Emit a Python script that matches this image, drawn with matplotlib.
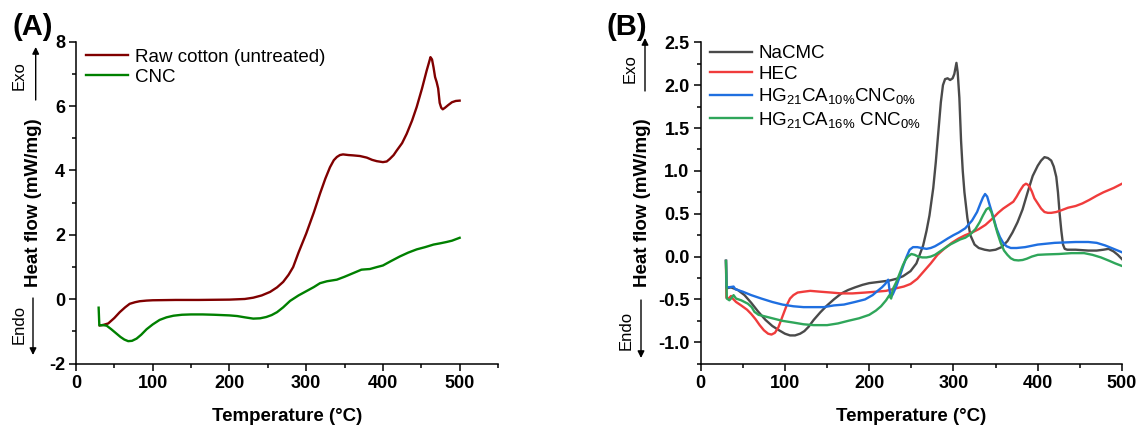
import matplotlib
matplotlib.use("Agg")
import matplotlib.pyplot as plt
from matplotlib.ticker import MultipleLocator, FormatStrFormatter

plt.rcParams['font.family'] = ['Liberation Sans', 'DejaVu Sans']
plt.rcParams['mathtext.fontset'] = 'custom'
plt.rcParams['mathtext.rm'] = 'Liberation Sans'
plt.rcParams['mathtext.it'] = 'Liberation Sans:italic'
plt.rcParams['mathtext.bf'] = 'Liberation Sans:bold'
plt.rcParams['axes.unicode_minus'] = False

# ---------------- Panel A data ----------------
T_raw = [31, 35, 42, 50, 57, 64, 70, 77, 83, 92, 100, 130, 160, 200, 220, 231, 242, 253, 262, 270,
         277, 283, 290, 300, 310, 318, 325, 331, 336, 340, 344, 348, 355, 361, 370, 379, 386, 392, 400, 405,
         409, 414, 418, 425, 431, 438, 444, 451, 457, 460, 462, 464, 466, 468, 470, 472, 474, 476, 478, 481,
         485, 490, 495, 500]
v_raw = [-0.81, -0.80, -0.75, -0.58, -0.40, -0.25, -0.14, -0.09, -0.06, -0.04, -0.03, -0.02, -0.02, -0.01, 0.01, 0.05, 0.12, 0.23, 0.37, 0.54,
         0.76, 1.0, 1.45, 2.04, 2.7, 3.28, 3.75, 4.1, 4.32, 4.42, 4.48, 4.5, 4.48, 4.47, 4.45, 4.40, 4.33, 4.29, 4.26, 4.28,
         4.36, 4.48, 4.62, 4.85, 5.14, 5.55, 5.97, 6.55, 7.1, 7.35, 7.52, 7.45, 7.2, 6.9, 6.75, 6.55, 6.1, 5.95, 5.9, 5.95,
         6.03, 6.12, 6.16, 6.17]

T_cnc = [29.5, 30.4, 35, 40, 46, 52, 58, 63, 68, 73, 79, 85, 92, 100, 109, 118, 127, 138, 150, 165,
         180, 200, 210, 220, 231, 240, 248, 255, 262, 270, 279, 290, 300, 310, 318, 327, 340, 350, 357, 365,
         372, 377, 383, 392, 400, 410, 422, 433, 444, 455, 466, 475, 483, 490, 500]
v_cnc = [-0.26, -0.81, -0.80, -0.82, -0.93, -1.05, -1.17, -1.25, -1.30, -1.29, -1.22, -1.1, -0.93, -0.78, -0.64, -0.56, -0.51, -0.48, -0.47, -0.47,
         -0.48, -0.50, -0.52, -0.56, -0.60, -0.59, -0.55, -0.49, -0.40, -0.25, -0.05, 0.12, 0.25, 0.38, 0.5, 0.56, 0.61, 0.70, 0.77, 0.85,
         0.92, 0.93, 0.94, 1.0, 1.05, 1.18, 1.33, 1.45, 1.55, 1.62, 1.70, 1.74, 1.78, 1.82, 1.91]

# ---------------- Panel B data ----------------
T_na = [30, 30.5, 36, 44, 52, 60, 68, 77, 85, 93, 100, 106, 112, 118, 123, 128, 134, 142, 150, 158,
        167, 175, 183, 192, 200, 208, 216, 224, 232, 240, 249, 256, 261, 264, 268, 271.5, 276, 279, 282, 285,
        287.5, 290, 293, 296, 299, 301, 303.5, 305, 307, 309, 311, 313, 316.5, 320, 325, 330, 337, 343, 350, 357,
        364, 370, 376, 382, 388, 394, 400, 404, 408, 412, 416, 419, 422, 424, 426, 428, 430, 432, 435, 445,
        460, 470, 478, 484, 490, 495, 500]
v_na = [-0.05, -0.37, -0.36, -0.39, -0.45, -0.54, -0.64, -0.74, -0.81, -0.86, -0.90, -0.92, -0.92, -0.90, -0.87, -0.82, -0.74, -0.65, -0.57, -0.50,
        -0.43, -0.39, -0.36, -0.33, -0.31, -0.30, -0.29, -0.28, -0.26, -0.23, -0.17, -0.08, 0.05, 0.13, 0.3, 0.48, 0.8, 1.1, 1.45, 1.8,
        2.0, 2.07, 2.08, 2.06, 2.08, 2.13, 2.26, 2.15, 1.85, 1.35, 1.0, 0.75, 0.45, 0.25, 0.14, 0.1, 0.08, 0.07, 0.08, 0.11,
        0.18, 0.28, 0.40, 0.55, 0.75, 0.94, 1.06, 1.12, 1.16, 1.15, 1.12, 1.05, 0.93, 0.75, 0.5, 0.3, 0.14, 0.09, 0.08, 0.08,
        0.07, 0.07, 0.08, 0.09, 0.06, 0.02, -0.03]

T_hec = [30, 30.5, 33, 36, 38, 42, 48, 55, 60, 65, 70, 75, 80, 84, 88, 92, 97, 102, 106, 110,
         115, 122, 130, 142, 155, 167, 180, 195, 208, 220, 232, 241, 249, 257, 265, 273, 281, 290, 298, 306,
         314, 322, 330, 338, 347, 353, 359, 365, 371, 375, 379, 383, 386, 388, 390, 393, 396, 400, 404, 408,
         412, 416, 422, 428, 436, 445, 453, 461, 470, 478, 490, 500]
v_hec = [-0.05, -0.48, -0.49, -0.46, -0.49, -0.53, -0.57, -0.62, -0.67, -0.73, -0.80, -0.86, -0.90, -0.91, -0.89, -0.83, -0.70, -0.57, -0.49, -0.45,
         -0.42, -0.41, -0.40, -0.41, -0.42, -0.43, -0.43, -0.42, -0.41, -0.40, -0.37, -0.35, -0.32, -0.26, -0.17, -0.08, 0.02, 0.10, 0.16, 0.21,
         0.25, 0.28, 0.32, 0.37, 0.45, 0.51, 0.56, 0.60, 0.64, 0.70, 0.77, 0.83, 0.85, 0.84, 0.82, 0.76, 0.68, 0.62, 0.56, 0.52,
         0.51, 0.51, 0.52, 0.54, 0.57, 0.59, 0.62, 0.66, 0.71, 0.75, 0.80, 0.85]

T_b = [30, 30.7, 36, 39, 41, 50, 60, 72, 85, 97, 110, 122, 134, 146, 158, 170, 183, 195, 204, 210,
       215, 219, 222.5, 224, 225.5, 228, 232, 236, 240, 244, 248, 252, 257, 262, 268, 273, 278, 285, 293, 300,
       306, 314, 322, 328, 332, 335, 337.5, 340, 343, 347, 351, 355, 359, 363, 368, 375, 385, 400, 420, 445,
       460, 470, 480, 490, 500]
v_b = [-0.05, -0.36, -0.355, -0.35, -0.38, -0.41, -0.45, -0.49, -0.53, -0.56, -0.58, -0.59, -0.59, -0.59, -0.57, -0.56, -0.53, -0.50, -0.45, -0.40,
       -0.36, -0.32, -0.27, -0.38, -0.48, -0.44, -0.35, -0.24, -0.12, -0.01, 0.08, 0.11, 0.11, 0.10, 0.09, 0.10, 0.12, 0.16, 0.21, 0.25,
       0.28, 0.33, 0.42, 0.52, 0.62, 0.69, 0.73, 0.70, 0.60, 0.47, 0.33, 0.23, 0.16, 0.12, 0.10, 0.10, 0.11, 0.14, 0.16, 0.17,
       0.17, 0.16, 0.13, 0.09, 0.05]

T_g = [30, 31, 34, 36, 39, 42, 48, 56, 60.5, 63.8, 68.7, 77, 85, 97, 110, 122, 134, 150, 163, 175,
       188, 200, 208, 214, 220, 224, 226, 228, 232, 236, 240, 243, 246, 250, 254, 258, 263, 268, 273, 278,
       284, 290, 296, 302, 308, 314, 320, 326, 331, 335, 339, 342, 345, 348, 352, 356, 360, 364, 368, 372,
       377, 382, 387, 393, 400, 410, 425, 440, 455, 465, 475, 485, 492, 500]
v_g = [-0.05, -0.49, -0.51, -0.49, -0.45, -0.49, -0.51, -0.55, -0.59, -0.645, -0.68, -0.70, -0.72, -0.75, -0.77, -0.79, -0.80, -0.80, -0.78, -0.75,
       -0.72, -0.68, -0.63, -0.58, -0.51, -0.45, -0.49, -0.38, -0.30, -0.20, -0.10, -0.04, 0.00, 0.03, 0.02, 0.00, -0.01, -0.01, 0.00, 0.02,
       0.06, 0.10, 0.14, 0.17, 0.20, 0.22, 0.26, 0.32, 0.40, 0.48, 0.55, 0.57, 0.52, 0.42, 0.28, 0.16, 0.07, 0.02, -0.02, -0.04,
       -0.045, -0.04, -0.025, 0.0, 0.02, 0.025, 0.03, 0.04, 0.04, 0.02, -0.01, -0.05, -0.08, -0.11]

labels_A = ['Raw cotton (untreated)', 'CNC']
labels_B = ['NaCMC', 'HEC', r'HG$_{21}$CA$_{10\%}$CNC$_{0\%}$', r'HG$_{21}$CA$_{16\%}$ CNC$_{0\%}$']
colors_A = ['#800000', '#008000']
colors_B = ['#4a4a4a', '#f03c3c', '#1f6fe0', '#2fa65a']

W, H = 1139, 425
fig = plt.figure(figsize=(W / 100, H / 100), dpi=100)

def px_axes(l, t, r, b):
    return fig.add_axes([l / W, 1 - b / H, (r - l) / W, (b - t) / H])

axA = px_axes(76, 41.7, 498, 363.7)
axB = px_axes(700.7, 42.3, 1122, 363.7)

LW = 1.7
axA.plot(T_raw, v_raw, color=colors_A[0], lw=LW, label=labels_A[0])
axA.plot(T_cnc, v_cnc, color=colors_A[1], lw=LW, label=labels_A[1])

for T, v, c, lab in zip([T_na, T_hec, T_b, T_g], [v_na, v_hec, v_b, v_g], colors_B, labels_B):
    axB.plot(T, v, color=c, lw=LW, label=lab)

axA.set_xlim(0, 550)
axA.set_ylim(-2, 8)
axA.xaxis.set_major_locator(MultipleLocator(100))
axA.xaxis.set_minor_locator(MultipleLocator(50))
axA.yaxis.set_major_locator(MultipleLocator(2))
axA.yaxis.set_minor_locator(MultipleLocator(1))

axB.set_xlim(0, 500)
axB.set_ylim(-1.25, 2.5)
axB.xaxis.set_major_locator(MultipleLocator(100))
axB.xaxis.set_minor_locator(MultipleLocator(50))
axB.yaxis.set_major_locator(MultipleLocator(0.5))
axB.yaxis.set_minor_locator(MultipleLocator(0.25))
axB.yaxis.set_major_formatter(FormatStrFormatter('%.1f'))

for ax in (axA, axB):
    for s in ('top', 'right'):
        ax.spines[s].set_visible(False)
    for s in ('left', 'bottom'):
        ax.spines[s].set_linewidth(1.1)
    ax.tick_params(which='major', direction='out', length=5, width=1.1, labelsize=13, pad=3)
    ax.tick_params(which='minor', direction='out', length=3, width=1.1)
    for lbl in ax.get_xticklabels() + ax.get_yticklabels():
        lbl.set_fontweight('bold')
    ax.set_xlabel('Temperature (°C)', fontsize=13.5, fontweight='bold', labelpad=12)
    ax.set_ylabel('Heat flow (mW/mg)', fontsize=13.5, fontweight='bold', labelpad=5)

axA.legend(loc='upper left', bbox_to_anchor=(0.024, 0.978), frameon=False, fontsize=13.5,
           handlelength=2.25, handletextpad=0.35, labelspacing=0.15, borderpad=0, borderaxespad=0)
axB.legend(loc='upper left', bbox_to_anchor=(0.021, 0.991), frameon=False, fontsize=13.5,
           handlelength=2.25, handletextpad=0.35, labelspacing=0.18, borderpad=0, borderaxespad=0)

# Panel labels
fig.text(13 / W, 1 - 13 / H, '(A)', fontsize=21, fontweight='bold', va='top', ha='left')
fig.text(606 / W, 1 - 13 / H, '(B)', fontsize=21, fontweight='bold', va='top', ha='left')

# Exo / Endo annotations
def arrow(x, y0, y1):
    fig.add_artist(matplotlib.patches.FancyArrowPatch(
        (x / W, 1 - y0 / H), (x / W, 1 - y1 / H), transform=fig.transFigure,
        arrowstyle='-|>', mutation_scale=10, lw=1.0, color='black', shrinkA=0, shrinkB=0))

fig.text(19 / W, 1 - 76 / H, 'Exo', rotation=90, fontsize=12, ha='center', va='center')
arrow(35.7, 100, 47)
fig.text(19 / W, 1 - 324 / H, 'Endo', rotation=90, fontsize=12, ha='center', va='center')
arrow(33, 298, 355)

fig.text(630.5 / W, 1 - 68.5 / H, 'Exo', rotation=90, fontsize=12, ha='center', va='center')
arrow(645, 91, 38)
fig.text(626 / W, 1 - 330 / H, 'Endo', rotation=90, fontsize=12, ha='center', va='center')
arrow(641, 300, 358)

fig.savefig('out.png', dpi=100)
